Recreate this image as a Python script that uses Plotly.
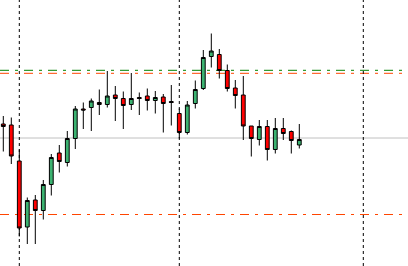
import plotly.graph_objects as go

# candle index (0-based) and OHLC prices
idx = list(range(38))
opens = [1.11420, 1.11410, 1.11050, 1.10390, 1.10660, 1.10555, 1.10815, 1.11130, 1.11035, 1.11275,
         1.11570, 1.11585, 1.11635, 1.11615, 1.11710, 1.11675, 1.11615, 1.11685, 1.11700, 1.11655,
         1.11690, 1.11645, 1.11525, 1.11335, 1.11625, 1.11775, 1.12095, 1.12115, 1.11955, 1.11780,
         1.11710, 1.11400, 1.11265, 1.11395, 1.11165, 1.11375, 1.11345, 1.11210]
highs = [1.11500, 1.11485, 1.11165, 1.10685, 1.10710, 1.10860, 1.11120, 1.11210, 1.11350, 1.11600,
         1.11635, 1.11675, 1.11765, 1.11950, 1.11800, 1.11745, 1.11930, 1.11735, 1.11775, 1.11750,
         1.11720, 1.11810, 1.11575, 1.11650, 1.11855, 1.12160, 1.12325, 1.12170, 1.12015, 1.11860,
         1.11900, 1.11400, 1.11460, 1.11460, 1.11480, 1.11480, 1.11355, 1.11420]
lows = [1.11145, 1.11020, 1.10295, 1.10220, 1.10220, 1.10465, 1.10705, 1.10935, 1.10995, 1.11170,
        1.11370, 1.11350, 1.11510, 1.11585, 1.11450, 1.11370, 1.11560, 1.11510, 1.11555, 1.11525,
        1.11335, 1.11405, 1.11275, 1.11315, 1.11575, 1.11760, 1.11985, 1.11875, 1.11745, 1.11575,
        1.11260, 1.11095, 1.11205, 1.11055, 1.11125, 1.11260, 1.11125, 1.11175]
closes = [1.11395, 1.11100, 1.10380, 1.10655, 1.10555, 1.10815, 1.11085, 1.11045, 1.11275, 1.11570,
          1.11560, 1.11650, 1.11615, 1.11700, 1.11675, 1.11605, 1.11675, 1.11675, 1.11655, 1.11685,
          1.11625, 1.11635, 1.11335, 1.11610, 1.11765, 1.12085, 1.12150, 1.11955, 1.11775, 1.11705,
          1.11400, 1.11275, 1.11395, 1.11165, 1.11375, 1.11325, 1.11255, 1.11265]

# reference levels
green_level = 1.11957
orange_levels = [1.11927, 1.10515]
gray_level = 1.11280
vlines_idx = [2, 22, 45]

fig = go.Figure(go.Candlestick(
    x=idx, open=opens, high=highs, low=lows, close=closes,
    increasing=dict(line=dict(color="black", width=1), fillcolor="#3CB371"),
    decreasing=dict(line=dict(color="black", width=1), fillcolor="#FF0000"),
    whiskerwidth=0, hoverinfo="skip", showlegend=False,
))

shapes = []
shapes.append(dict(type="line", xref="paper", x0=0, x1=1, y0=gray_level, y1=gray_level,
                   line=dict(color="#C0C0C0", width=1), layer="below"))
shapes.append(dict(type="line", xref="paper", x0=0, x1=1, y0=green_level, y1=green_level,
                   line=dict(color="#008000", width=1, dash="9px,6px,3px,6px"), layer="below"))
for lv in orange_levels:
    shapes.append(dict(type="line", xref="paper", x0=0, x1=1, y0=lv, y1=lv,
                       line=dict(color="#FF4500", width=1, dash="9px,6px,3px,6px"), layer="below"))
for v in vlines_idx:
    shapes.append(dict(type="line", yref="paper", y0=0, y1=1, x0=v, x1=v,
                       line=dict(color="black", width=1, dash="3px,3px"), layer="below"))

fig.update_layout(
    width=408, height=266,
    margin=dict(l=0, r=0, t=0, b=0),
    paper_bgcolor="white", plot_bgcolor="white",
    boxgap=0.32,
    shapes=shapes,
    xaxis=dict(range=[-0.4125, 50.5875], visible=False, rangeslider=dict(visible=False),
               showgrid=False, zeroline=False),
    yaxis=dict(range=[1.1000, 1.1266], visible=False, showgrid=False, zeroline=False),
)

fig.write_html("out.html", config={"displayModeBar": False})
